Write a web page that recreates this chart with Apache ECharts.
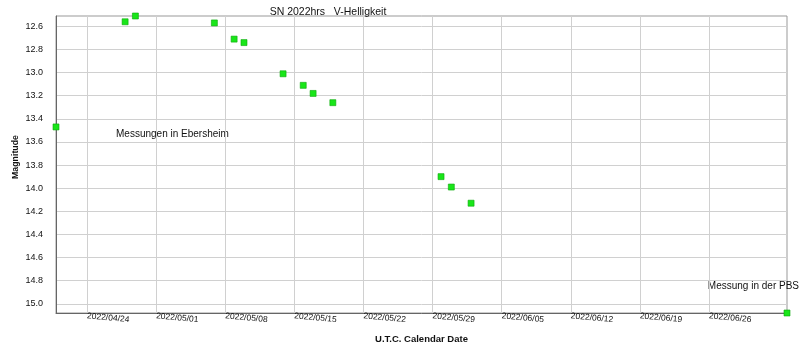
<!DOCTYPE html>
<html>
<head>
<meta charset="utf-8">
<script src="https://cdn.jsdelivr.net/npm/echarts@6/dist/echarts.min.js"></script>
<style>html,body{margin:0;padding:0;background:#fff}#c{width:800px;height:357px}</style>
</head>
<body>
<div id="c"></div>
<script>
// Observation times (UTC) and V magnitudes
const obsDates = [
  '2022-04-20T20:40:00Z', '2022-04-27T20:40:00Z', '2022-04-28T21:40:00Z',
  '2022-05-06T21:40:00Z', '2022-05-08T21:40:00Z', '2022-05-09T21:40:00Z',
  '2022-05-13T20:40:00Z', '2022-05-15T21:40:00Z', '2022-05-16T21:40:00Z',
  '2022-05-18T21:40:00Z', '2022-05-29T20:40:00Z', '2022-05-30T21:40:00Z',
  '2022-06-01T21:40:00Z', '2022-07-03T21:40:00Z'
];
const magnitudes = [13.47, 12.56, 12.51, 12.57, 12.71, 12.74, 13.01, 13.11, 13.18, 13.26, 13.90, 13.99, 14.13, 15.08];

// Tick labels
const xTickDates = ['2022-04-24', '2022-05-01', '2022-05-08', '2022-05-15', '2022-05-22',
  '2022-05-29', '2022-06-05', '2022-06-12', '2022-06-19', '2022-06-26'];
const yTicks = [12.6, 12.8, 13.0, 13.2, 13.4, 13.6, 13.8, 14.0, 14.2, 14.4, 14.6, 14.8, 15.0];

const titleText = 'SN 2022hrs   V-Helligkeit';
const xAxisTitle = 'U.T.C. Calendar Date';
const yAxisTitle = 'Magnitude';
const noteEbersheim = 'Messungen in Ebersheim';
const notePBS = 'Messung in der PBS';

const toMs = s => Date.parse(s.length === 10 ? s + 'T00:00:00Z' : s);
const seriesData = obsDates.map((d, i) => [toMs(d), magnitudes[i]]);
const xTickValues = xTickDates.map(toMs);
const pad = n => (n < 10 ? '0' : '') + n;
const fmtDate = v => { const d = new Date(v); return d.getUTCFullYear() + '/' + pad(d.getUTCMonth() + 1) + '/' + pad(d.getUTCDate()); };

const font = 'Liberation Sans, Arial, sans-serif';
const chart = echarts.init(document.getElementById('c'), null, { renderer: 'canvas' });
chart.setOption({
  backgroundColor: '#ffffff',
  animation: false,
  title: {
    text: titleText, left: 323, top: 2, textAlign: 'center',
    textStyle: { fontFamily: font, fontSize: 10.5, fontWeight: 'normal', color: '#111' }
  },
  grid: { left: 56, right: 13, top: 16, bottom: 44, show: true, borderColor: '#999', borderWidth: 1,
    containLabel: false, outerBoundsMode: 'none' },
  xAxis: {
    type: 'value', min: 'dataMin', max: 'dataMax',
    name: xAxisTitle, nameLocation: 'middle', nameGap: 21,
    nameTextStyle: { fontFamily: font, fontSize: 9.5, fontWeight: 'bold', color: '#111' },
    axisLine: { show: true, lineStyle: { color: '#666', width: 1 } },
    axisTick: { show: true, length: 0, customValues: xTickValues },
    axisLabel: { customValues: xTickValues, formatter: fmtDate, rotate: -5, margin: 3,
      fontFamily: font, fontSize: 8.5, color: '#111' },
    splitLine: { show: true, lineStyle: { color: '#d0d0d0', width: 1 } }
  },
  yAxis: {
    type: 'value', inverse: true, min: 'dataMin', max: 'dataMax',
    axisLine: { show: true, lineStyle: { color: '#666', width: 1 } },
    axisTick: { show: true, length: 0, customValues: yTicks },
    axisLabel: { customValues: yTicks, formatter: v => v.toFixed(1), margin: 13,
      fontFamily: font, fontSize: 9, color: '#111' },
    splitLine: { show: true, lineStyle: { color: '#d0d0d0', width: 1 } }
  },
  graphic: [
    { type: 'text', x: 16, y: 157, rotation: Math.PI / 2,
      style: { text: yAxisTitle, font: 'bold 8.8px ' + font, fill: '#111', align: 'center', verticalAlign: 'middle' } },
    { type: 'text', left: 116, top: 129, style: { text: noteEbersheim, font: '10px ' + font, fill: '#111' } },
    { type: 'text', right: 1, top: 281, style: { text: notePBS, font: '10px ' + font, fill: '#111' } }
  ],
  series: [{
    type: 'scatter', data: seriesData, symbol: 'rect', symbolSize: 6,
    clip: false,
    itemStyle: { color: '#19e619', borderColor: '#0aa80a', borderWidth: 0.6, opacity: 1 }
  }]
});
</script>
</body>
</html>
